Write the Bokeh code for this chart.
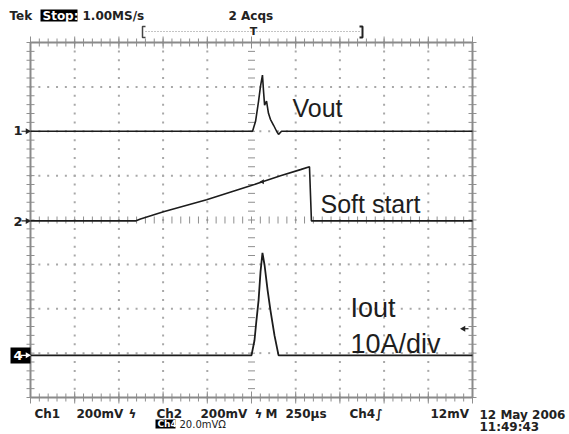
import numpy as np
from bokeh.plotting import figure
from bokeh.models import Range1d
from bokeh.core.properties import value
from bokeh.embed import file_html
from bokeh.resources import INLINE

# ---------------- data ----------------
time_per_div_us = 250          # M 250us
ch1_mv_per_div = 200           # Ch1 200mV
ch2_mv_per_div = 200           # Ch2 200mV
ch4_a_per_div = 10             # Iout 10A/div
ch4_mv_per_div = 20            # Ch4 20.0mV
ch4_trigger_mv = 12            # trigger level 12mV
ch1_offset_div = 6.0           # marker "1"
ch2_offset_div = 3.98          # marker "2"
ch4_offset_div = 0.95          # marker "4"

# Vout (Ch1), mV relative to its ground marker
vout_t_us = [-1250, 6, 23, 40, 51, 62, 68, 74, 85, 96, 107, 125, 142, 153, 170, 1250]
vout_mv = [0, 0, 45, 136, 203, 253, 181, 118, 136, 81, 54, 27, 0, -14, 0, 0]

# Soft start (Ch2), mV
soft_t_us = [-1250, -656, -628, -498, -254, -6, 62, 164, 277, 328, 339, 1250]
soft_mv = [0, 0, 9, 41, 95, 158, 176, 203, 231, 244, 0, 0]

# Iout (Ch4), A
iout_t_us = [-1250, 0, 17, 28, 40, 51, 62, 74, 91, 107, 130, 153, 1250]
iout_a = [0, 0, 3.4, 7.9, 12.4, 18.8, 23.1, 20.3, 14.7, 10.2, 4.5, 0, 0]

n_xdiv = 10
n_ydiv = 8

# ---------------- geometry helpers (picture pixel -> graticule divisions) ----------------
X0_PX, XDIV_PX = 30.0, 44.2
Y0_PX, YDIV_PX = 397.0, 44.375


def xd(px):
    return (px - X0_PX) / XDIV_PX


def yd(py):
    return (Y0_PX - py) / YDIV_PX


def tdiv(t_us):
    return n_xdiv / 2 + np.asarray(t_us, dtype=float) / time_per_div_us


W, H = 569, 434
p = figure(width=W, height=H, output_backend="svg", toolbar_location=None,
           x_range=Range1d(xd(0), xd(W)), y_range=Range1d(yd(H), yd(0)),
           x_axis_type=None, y_axis_type=None, min_border=0)
p.outline_line_color = None
p.xgrid.visible = False
p.ygrid.visible = False
p.background_fill_color = "white"
p.border_fill_color = "white"

GRID_C = "#a8a8a8"
TICK_C = "#8f8f8f"

# ---------------- graticule ----------------
xs_minor = np.arange(0, n_xdiv + 1e-9, 0.2)
ys_minor = np.arange(0, n_ydiv + 1e-9, 0.2)
dx, dy = [], []
for yl in range(1, n_ydiv):
    if yl == n_ydiv // 2:
        continue
    dx += list(xs_minor)
    dy += [yl] * len(xs_minor)
for xl in range(1, n_xdiv):
    if xl == n_xdiv // 2:
        continue
    dx += [xl] * len(ys_minor)
    dy += list(ys_minor)
p.scatter(dx, dy, marker="square", size=2, fill_color=GRID_C, line_color=None)

# center cross ticks
p.scatter([n_xdiv / 2] * len(ys_minor), ys_minor, marker="dash", size=7,
          line_color=TICK_C, line_width=1)
p.scatter(xs_minor, [n_ydiv / 2] * len(xs_minor), marker="dash", size=7, angle=np.pi / 2,
          line_color=TICK_C, line_width=1)
# border ticks
p.scatter([0] * len(ys_minor) + [n_xdiv] * len(ys_minor), list(ys_minor) * 2, marker="dash",
          size=8, line_color=TICK_C, line_width=1)
p.scatter(list(xs_minor) * 2, [0] * len(xs_minor) + [n_ydiv] * len(xs_minor), marker="dash",
          size=8, angle=np.pi / 2, line_color=TICK_C, line_width=1)
xs_major = np.arange(0, n_xdiv + 1)
p.scatter(xs_major, [n_ydiv] * len(xs_major), marker="dash", size=12, angle=np.pi / 2,
          line_color=TICK_C, line_width=1)
p.scatter(xs_major, [0] * len(xs_major), marker="dash", size=12, angle=np.pi / 2,
          line_color=TICK_C, line_width=1)
# border
p.line([0, n_xdiv, n_xdiv, 0, 0], [0, 0, n_ydiv, n_ydiv, 0], line_color="#8a8a8a", line_width=2)

# ---------------- traces ----------------
TRACE_C = "#1c1c1c"
p.line(tdiv(vout_t_us), ch1_offset_div + np.array(vout_mv) / ch1_mv_per_div,
       line_color=TRACE_C, line_width=1.6)
p.line(tdiv(soft_t_us), ch2_offset_div + np.array(soft_mv) / ch2_mv_per_div,
       line_color=TRACE_C, line_width=1.6)
p.line(tdiv(iout_t_us), ch4_offset_div + np.array(iout_a) / ch4_a_per_div,
       line_color=TRACE_C, line_width=1.8)


# ---------------- text helpers ----------------
def txt(px, py, s, size=12, font="DejaVu Sans", style="bold", color="#222222",
        align="left", baseline="middle"):
    p.text([xd(px)], [yd(py)], text=[s], text_font=value(font), text_font_size=f"{size}px",
           text_font_style=style, text_color=color, text_align=align, text_baseline=baseline)


def box(l, r, t, b, color="black"):
    p.quad(left=[xd(l)], right=[xd(r)], top=[yd(t)], bottom=[yd(b)], fill_color=color,
           line_color=None)


# trace labels
txt(292, 107, "Vout", size=25, font="Liberation Sans", style="normal", color="#1e1e1e",
    baseline="alphabetic")
txt(320, 203, "Soft start", size=25, font="Liberation Sans", style="normal", color="#1e1e1e",
    baseline="alphabetic")
txt(350, 307, "Iout", size=27, font="Liberation Sans", style="normal", color="#1e1e1e",
    baseline="alphabetic")
txt(350, 343, "10A/div", size=27, font="Liberation Sans", style="normal", color="#1e1e1e",
    baseline="alphabetic")

# top status line
txt(9, 15, "Tek", size=12)
box(40, 77, 9, 21)
txt(42, 15, "Stop:", size=12, color="white")
txt(82, 15, "1.00MS/s", size=12)
txt(228, 15, "2 Acqs", size=12)

# record bracket
p.line([xd(145), xd(142), xd(142), xd(145)], [yd(26), yd(26), yd(37), yd(37)],
       line_color="#444444", line_width=1.5)
p.line([xd(145), xd(359)], [yd(31), yd(31)], line_color="#888888", line_width=1,
       line_dash="1 2")
p.line([xd(359), xd(362), xd(362), xd(359)], [yd(26), yd(26), yd(37), yd(37)],
       line_color="#222222", line_width=2)
txt(253, 31, "T", size=11, align="center")

# channel ground markers
txt(13, 130, "1", size=13)
p.line([xd(21), xd(27)], [ch1_offset_div] * 2, line_color="#222222", line_width=1.2)
p.scatter([xd(27)], [ch1_offset_div], marker="triangle", angle=-np.pi / 2, size=6,
          fill_color="#222222", line_color=None)
txt(13, 221, "2", size=13)
p.line([xd(21), xd(27)], [ch2_offset_div] * 2, line_color="#222222", line_width=1.2)
p.scatter([xd(27)], [ch2_offset_div], marker="triangle", angle=-np.pi / 2, size=6,
          fill_color="#222222", line_color=None)
box(10, 30, 347, 363)
txt(13, 355, "4", size=13, color="white")
p.line([xd(20), xd(27)], [ch4_offset_div] * 2, line_color="white", line_width=1.2)
p.scatter([xd(27)], [ch4_offset_div], marker="triangle", angle=-np.pi / 2, size=6,
          fill_color="white", line_color=None)

# small cursor mark on the soft-start ramp
p.scatter([tdiv(62)], [ch2_offset_div + 176 / ch2_mv_per_div], marker="triangle",
          angle=np.pi / 2, size=5, fill_color="#222222", line_color=None)

# trigger level marker (right edge)
trig_y = ch4_offset_div + ch4_trigger_mv / ch4_mv_per_div
p.line([xd(463), xd(468)], [trig_y, trig_y], line_color="#222222", line_width=1.2)
p.scatter([xd(463)], [trig_y], marker="triangle", angle=np.pi / 2, size=6,
          fill_color="#222222", line_color=None)

# bottom status lines
row1 = 413
for px, s in [(34, "Ch1"), (76, "200mV"), (128, "ϟ"), (156, "Ch2"), (200, "200mV"),
              (254, "ϟ"), (265, "M"), (285, "250µs"), (349, "Ch4"), (375, "∫"),
              (430, "12mV")]:
    txt(px, row1, s, size=12)
box(155, 175, 419, 428)
txt(157, 423.5, "Ch4", size=9, color="white")
txt(179, 423.5, "20.0mVΩ", size=10, style="normal")
txt(479, 414, "12 May 2006", size=12)
txt(479, 426, "11:49:43", size=12)

open("out.html", "w").write(file_html(p, INLINE))
